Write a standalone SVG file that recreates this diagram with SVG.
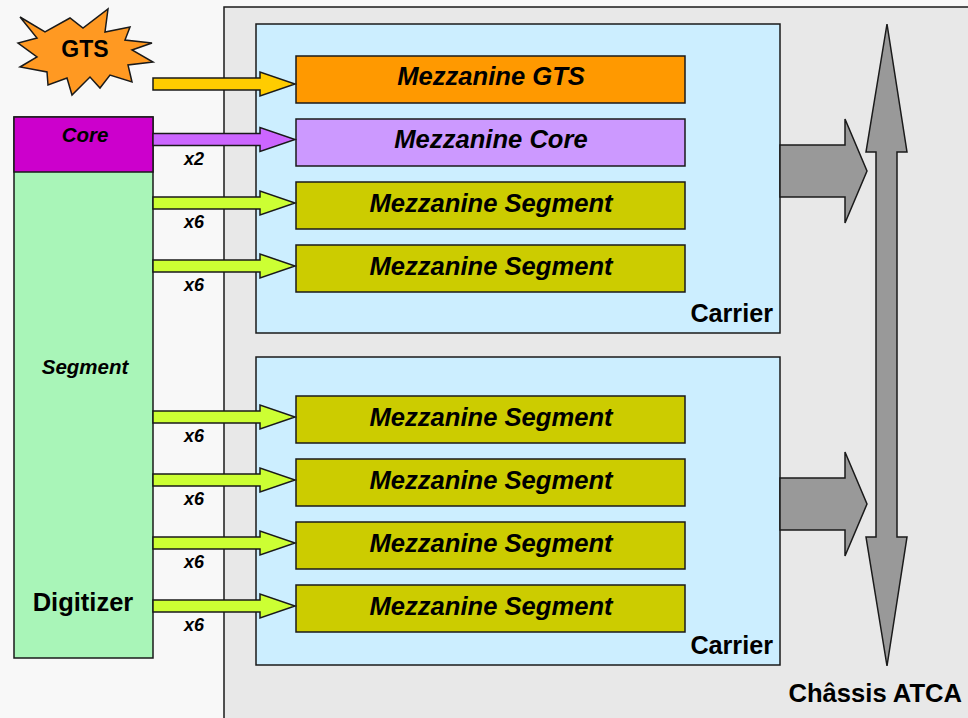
<svg xmlns="http://www.w3.org/2000/svg" width="968" height="718" viewBox="0 0 968 718">
<style>
  .ln { stroke: #1a1a1a; stroke-width: 1.5; stroke-linejoin: miter; }
  .t { font-family: "Liberation Sans", Arial, sans-serif; font-weight: bold; fill: #000; }
  .bi { font-style: italic; }
  .mz { font-size: 25.6px; text-anchor: middle; font-style: italic; }
  .lbl { font-size: 18px; text-anchor: middle; font-style: italic; }
  .seg { fill: #cccc00; }
  .sa { fill: #ccff33; }
  .ga { fill: #999999; }
</style>
<defs>
  <path id="arr" d="M0,-6 L107,-6 L107,-12 L142,0 L107,12 L107,6 L0,6 Z"/>
</defs>
<rect x="0" y="0" width="968" height="718" fill="#f8f8f8"/>

<g id="chassis">
  <rect x="224" y="7" width="800" height="800" fill="#e8e8e8" class="ln"/>
  <text class="t" x="962" y="702" font-size="25.6" text-anchor="end">Châssis ATCA</text>
</g>

<g id="carrier1">
  <rect x="256" y="24" width="524" height="309" fill="#cceeff" class="ln"/>
  <text class="t" x="773" y="322" font-size="25.2" text-anchor="end">Carrier</text>
</g>
<g id="carrier2">
  <rect x="256" y="357" width="524" height="308" fill="#cceeff" class="ln"/>
  <text class="t" x="773" y="654" font-size="25.2" text-anchor="end">Carrier</text>
</g>

<g id="mezz-gts">
  <rect x="296" y="56" width="389" height="47" fill="#ff9900" class="ln"/>
  <text class="t mz" x="491" y="85">Mezzanine GTS</text>
</g>
<g id="mezz-core">
  <rect x="296" y="119" width="389" height="47" fill="#cc99ff" class="ln"/>
  <text class="t mz" x="491" y="148">Mezzanine Core</text>
</g>
<g id="mezz-seg1">
  <rect x="296" y="182" width="389" height="47" class="seg ln"/>
  <text class="t mz" x="491" y="212">Mezzanine Segment</text>
</g>
<g id="mezz-seg2">
  <rect x="296" y="245" width="389" height="47" class="seg ln"/>
  <text class="t mz" x="491" y="275">Mezzanine Segment</text>
</g>
<g id="mezz-seg3">
  <rect x="296" y="396" width="389" height="47" class="seg ln"/>
  <text class="t mz" x="491" y="426">Mezzanine Segment</text>
</g>
<g id="mezz-seg4">
  <rect x="296" y="459" width="389" height="47" class="seg ln"/>
  <text class="t mz" x="491" y="489">Mezzanine Segment</text>
</g>
<g id="mezz-seg5">
  <rect x="296" y="522" width="389" height="47" class="seg ln"/>
  <text class="t mz" x="491" y="552">Mezzanine Segment</text>
</g>
<g id="mezz-seg6">
  <rect x="296" y="585" width="389" height="47" class="seg ln"/>
  <text class="t mz" x="491" y="615">Mezzanine Segment</text>
</g>

<g id="digitizer">
  <rect x="14" y="117" width="139" height="541" fill="#a9f5b8" class="ln"/>
  <rect x="14" y="117" width="139" height="55" fill="#cc00cc" class="ln"/>
  <text class="t bi" x="85" y="142" font-size="20.5" text-anchor="middle">Core</text>
  <text class="t bi" x="85" y="374" font-size="20.5" text-anchor="middle">Segment</text>
  <text class="t" x="83" y="611" font-size="25.5" text-anchor="middle">Digitizer</text>
</g>

<g id="gts">
  <polygon fill="#ff9922" class="ln" points="20,17 45,32 70,18 83,28 108,9 105,32 130,27 125,40 152,43 132,50 153,62 128,65 132,82 110,75 100,88 90,77 72,95 67,78 48,85 47,72 20,67 37,57 18,43 37,38"/>
  <text class="t" x="85" y="57" font-size="23" text-anchor="middle">GTS</text>
</g>

<g id="connectors">
  <use href="#arr" x="153" y="84" fill="#ffcc00" class="ln"/>
  <use href="#arr" x="153" y="139.5" fill="#cc66ff" class="ln"/>
  <use href="#arr" x="153" y="203" class="sa ln"/>
  <use href="#arr" x="153" y="266" class="sa ln"/>
  <use href="#arr" x="153" y="417" class="sa ln"/>
  <use href="#arr" x="153" y="480" class="sa ln"/>
  <use href="#arr" x="153" y="543" class="sa ln"/>
  <use href="#arr" x="153" y="606" class="sa ln"/>
  <text class="t lbl" x="194" y="165">x2</text>
  <text class="t lbl" x="194" y="228">x6</text>
  <text class="t lbl" x="194" y="291">x6</text>
  <text class="t lbl" x="194" y="442">x6</text>
  <text class="t lbl" x="194" y="505">x6</text>
  <text class="t lbl" x="194" y="568">x6</text>
  <text class="t lbl" x="194" y="631">x6</text>
  <polygon class="ga ln" points="780,145 845,145 845,119 867,171 845,223 845,197 780,197"/>
  <polygon class="ga ln" points="780,478 845,478 845,452 867,504 845,556 845,530 780,530"/>
  <polygon class="ga ln" points="887,24 907,152 897,152 897,537 907,537 887,666 866,537 876,537 876,152 866,152"/>
</g>
</svg>
